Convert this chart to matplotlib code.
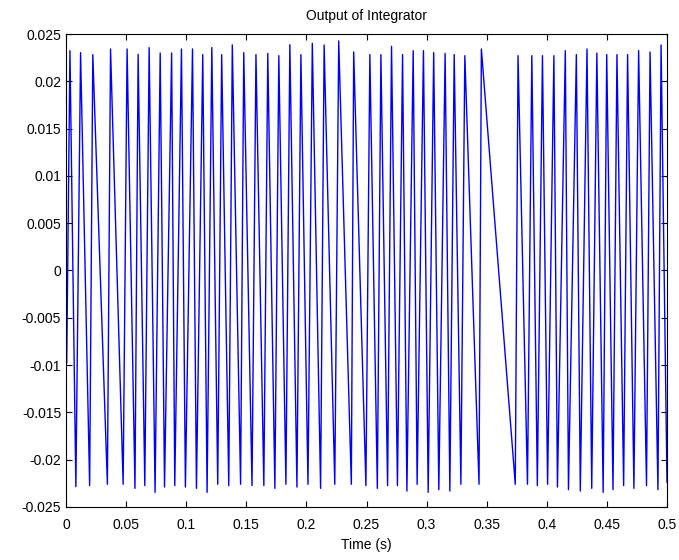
import matplotlib
matplotlib.use("Agg")
import matplotlib.pyplot as plt
from matplotlib.ticker import FuncFormatter
import numpy as np

plt.rcParams['font.family'] = ['Liberation Sans', 'DejaVu Sans']
plt.rcParams['axes.unicode_minus'] = False

# start of the trace
t_start = [0.0, 0.0006]
v_start = [0.005, -0.0098]

# upper turning points of the integrator output
t_peak = [0.00328, 0.01213, 0.02230, 0.03705, 0.05082, 0.06000, 0.06918, 0.07836,
          0.08787, 0.09607, 0.10525, 0.11377, 0.12131, 0.12951, 0.13836, 0.14787,
          0.15803, 0.16787, 0.17705, 0.18623, 0.19541, 0.20492, 0.21475, 0.22689,
          0.23934, 0.25279, 0.26197, 0.27082, 0.28000, 0.28885, 0.29738, 0.30590,
          0.31541, 0.32295, 0.33180, 0.34557, 0.37607, 0.38754, 0.39639, 0.40590,
          0.41541, 0.42459, 0.43344, 0.44164, 0.44984, 0.45836, 0.46721, 0.47639,
          0.48590, 0.49508]
v_peak = [0.02324, 0.02303, 0.02282, 0.02342, 0.02342, 0.02285, 0.02356, 0.02299,
          0.02299, 0.02342, 0.02342, 0.02282, 0.02356, 0.02282, 0.02384, 0.02303,
          0.02282, 0.02296, 0.02271, 0.02387, 0.02282, 0.02401, 0.02384, 0.02426,
          0.02310, 0.02282, 0.02282, 0.02370, 0.02282, 0.02324, 0.02324, 0.02303,
          0.02296, 0.02282, 0.02271, 0.02342, 0.02271, 0.02271, 0.02271, 0.02271,
          0.02324, 0.02282, 0.02342, 0.02299, 0.02282, 0.02282, 0.02282, 0.02324,
          0.02310, 0.02384]

# lower turning points (last one is the value at the end of the run)
t_trough = [0.00820, 0.01967, 0.03443, 0.04754, 0.05738, 0.06557, 0.07410, 0.08197,
            0.09049, 0.09934, 0.10852, 0.11738, 0.12623, 0.13541, 0.14525, 0.15475,
            0.16459, 0.17377, 0.18295, 0.19213, 0.20131, 0.21180, 0.22361, 0.23738,
            0.24951, 0.25902, 0.26754, 0.27574, 0.28361, 0.29213, 0.30131, 0.31016,
            0.31934, 0.32852, 0.34361, 0.37377, 0.38393, 0.39213, 0.40066, 0.40885,
            0.41803, 0.42787, 0.43738, 0.44689, 0.45508, 0.46393, 0.47246, 0.48295,
            0.49246, 0.5]
v_trough = [-0.02285, -0.02274, -0.02260, -0.02260, -0.02303, -0.02274, -0.02345, -0.02289,
            -0.02274, -0.02289, -0.02303, -0.02345, -0.02260, -0.02274, -0.02260, -0.02274,
            -0.02274, -0.02303, -0.02260, -0.02289, -0.02260, -0.02303, -0.02260, -0.02260,
            -0.02274, -0.02303, -0.02274, -0.02274, -0.02331, -0.02260, -0.02345, -0.02317,
            -0.02331, -0.02260, -0.02260, -0.02260, -0.02260, -0.02274, -0.02260, -0.02289,
            -0.02317, -0.02331, -0.02303, -0.02345, -0.02317, -0.02274, -0.02303, -0.02274,
            -0.02317, -0.0224]

# interleave peaks and troughs into one trace
t = list(t_start)
v = list(v_start)
for i in range(len(t_peak)):
    t.append(t_peak[i])
    v.append(v_peak[i])
    t.append(t_trough[i])
    v.append(v_trough[i])

fig = plt.figure(figsize=(6.79, 5.6), dpi=100)
ax = fig.add_axes([66/679, 1 - 507/560, 601/679, 473/560])
ax.plot(t, v, color=(0, 0, 1), linewidth=1.0)

ax.set_xlim(0, 0.5)
ax.set_ylim(-0.025, 0.025)
ax.set_xticks(np.arange(0, 0.5001, 0.05))
ax.set_yticks(np.arange(-0.025, 0.02501, 0.005))
fmt = FuncFormatter(lambda x, pos: '%g' % round(x, 4))
ax.xaxis.set_major_formatter(fmt)
ax.yaxis.set_major_formatter(fmt)
ax.tick_params(direction='in', top=True, right=True, length=4, width=0.8,
               labelsize=10, colors='black')
ax.tick_params(axis='x', pad=8)
for s in ax.spines.values():
    s.set_linewidth(0.8)

ax.set_title('Output of Integrator', fontsize=10, pad=10)
ax.set_xlabel('Time (s)', fontsize=10, labelpad=4)

fig.savefig('out.png', dpi=100)
